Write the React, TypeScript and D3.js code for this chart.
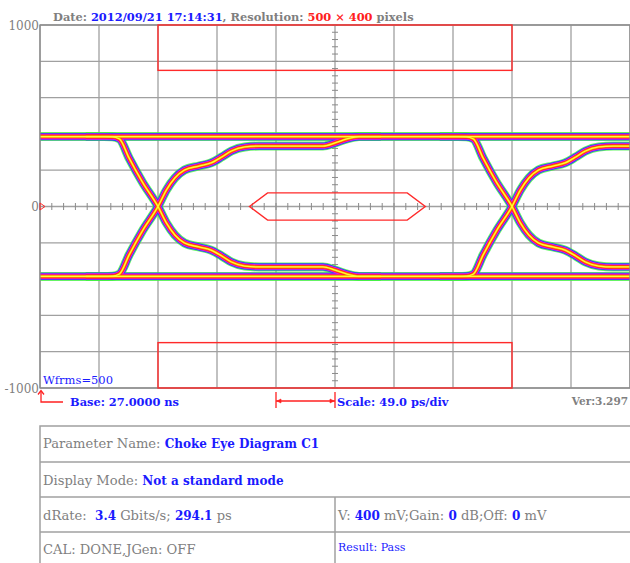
import React, { useEffect, useRef } from 'react';
import * as d3 from 'd3';

// grid: time in ps (49 ps/div), amplitude in mV
const timeTicks = [0, 49, 98, 147, 196, 245, 294, 343, 392, 441, 490];
const voltTicks = [-1000, -800, -600, -400, -200, 0, 200, 400, 600, 800, 1000];
const axisLabels = ['1000', '0', '-1000'];
const axisLabelValues = [1000, 0, -1000];

// eye traces
const railHigh = 385;
const railLow = -385;
const crossings = [98, 392];
// rising edge shape, relative to the crossing (falling = mirrored)
const edgeT = [-60, -45, -38, -32, -24, -13, 0, 7, 14, 22, 34, 44, 53, 61, 72, 84, 137, 147, 157, 167, 185];
const edgeV = [-385, -385, -384, -372, -267, -135, 0, 91, 157, 201, 223, 240, 273, 306, 328, 333, 333, 350, 372, 385, 385];

// mask
const maskT = [98, 392];
const maskV = [750, 1000];
const hexT = [174, 189, 305, 320, 305, 189];
const hexV = [0, 75, 75, 0, -75, -75];

// texts
const GRAY = '#7f7f7f';
const BLUE = '#1a1aff';
const RED = '#ff2020';
const header: [string, string][] = [
  ['Date: ', GRAY], ['2012/09/21 17:14:31', BLUE], [', Resolution: ', GRAY],
  ['500 \u00d7 400', RED], [' pixels', GRAY],
];
const rowParam: [string, string, boolean][] = [['Parameter Name: ', GRAY, false], ['Choke Eye Diagram C1', BLUE, true]];
const rowMode: [string, string, boolean][] = [['Display Mode: ', GRAY, false], ['Not a standard mode', BLUE, true]];
const rowRate: [string, string, boolean][] = [
  ['dRate:  ', GRAY, false], ['3.4', BLUE, true], [' Gbits/s; ', GRAY, false], ['294.1', BLUE, true], [' ps', GRAY, false],
];
const rowV: [string, string, boolean][] = [
  ['V: ', GRAY, false], ['400', BLUE, true], [' mV;Gain: ', GRAY, false], ['0', BLUE, true],
  [' dB;Off: ', GRAY, false], ['0', BLUE, true], [' mV', GRAY, false],
];
const rowCal: [string, string, boolean][] = [['CAL: DONE,JGen: OFF', GRAY, false]];

const traceLayers = [
  { color: '#3ef03e', width: 9, opacity: 0.8 },
  { color: '#2b3cff', width: 7.2, opacity: 1 },
  { color: '#e81ee8', width: 5.6, opacity: 1 },
  { color: '#ff1f1f', width: 4, opacity: 1 },
  { color: '#ff8a00', width: 2.6, opacity: 1 },
  { color: '#ffff30', width: 1.3, opacity: 1 },
];

const FONT = '"DejaVu Serif", serif';
const REG = 13.1;
const BOLD_TABLE = 12;
const BOLD_SMALL = 11.4;

export default function App() {
  const svgRef = useRef<SVGSVGElement>(null);

  useEffect(() => {
    const svg = d3.select(svgRef.current);
    svg.selectAll('*').remove();

    const width = 630;
    const height = 563;
    const left = 40, right = 630, top = 25, bottom = 388;

    svg.attr('width', width).attr('height', height);

    const x = d3.scaleLinear().domain([0, 490]).range([left, right]);
    const y = d3.scaleLinear().domain([-1000, 1000]).range([bottom, top]);

    svg.append('defs').append('clipPath').attr('id', 'plotclip')
      .append('rect').attr('x', left).attr('y', top).attr('width', right - left).attr('height', bottom - top);

    // grid
    const grid = svg.append('g').attr('stroke', '#a0a0a0').attr('stroke-width', 1.3);
    grid.selectAll('line.v').data(timeTicks).enter().append('line')
      .attr('x1', d => x(d)).attr('x2', d => x(d)).attr('y1', top).attr('y2', bottom);
    grid.selectAll('line.h').data(voltTicks).enter().append('line')
      .attr('x1', left).attr('x2', right).attr('y1', d => y(d)).attr('y2', d => y(d));

    // center axes with minor ticks
    const minorT = d3.range(0, 490.1, 9.8);
    const minorV = d3.range(-1000, 1000.1, 40);
    const ax = svg.append('g').attr('stroke', '#8a8a8a').attr('stroke-width', 1);
    ax.selectAll('line.mt').data(minorT).enter().append('line')
      .attr('x1', d => x(d)).attr('x2', d => x(d)).attr('y1', y(0) - 3.5).attr('y2', y(0) + 3.5);
    ax.selectAll('line.mv').data(minorV).enter().append('line')
      .attr('x1', x(245) - 3).attr('x2', x(245) + 3).attr('y1', d => y(d)).attr('y2', d => y(d));

    // traces
    const line = d3.line<[number, number]>()
      .x(d => x(d[0])).y(d => y(d[1]))
      .curve(d3.curveMonotoneX);

    const paths: [number, number][][] = [];
    paths.push([[0, railHigh], [490, railHigh]]);
    paths.push([[0, railLow], [490, railLow]]);
    crossings.forEach(c => {
      paths.push(edgeT.map((t, i) => [c + t, edgeV[i]] as [number, number]));
      paths.push(edgeT.map((t, i) => [c + t, -edgeV[i]] as [number, number]));
    });

    const traces = svg.append('g').attr('clip-path', 'url(#plotclip)').attr('fill', 'none');
    traceLayers.forEach(layer => {
      traces.append('g')
        .attr('stroke', layer.color)
        .attr('stroke-width', layer.width)
        .attr('stroke-opacity', layer.opacity)
        .attr('stroke-linejoin', 'round')
        .selectAll('path').data(paths).enter().append('path')
        .attr('d', d => line(d) as string);
    });

    // plot border (top / left visible)
    svg.append('rect').attr('x', left).attr('y', top).attr('width', right - left).attr('height', bottom - top)
      .attr('fill', 'none').attr('stroke', '#8a8a8a').attr('stroke-width', 1.3);

    // mask
    const mask = svg.append('g').attr('fill', 'none').attr('stroke', '#ff2a2a').attr('stroke-width', 1.4);
    mask.append('rect').attr('x', x(maskT[0])).attr('y', y(maskV[1]))
      .attr('width', x(maskT[1]) - x(maskT[0])).attr('height', y(maskV[0]) - y(maskV[1]));
    mask.append('rect').attr('x', x(maskT[0])).attr('y', y(-maskV[0]))
      .attr('width', x(maskT[1]) - x(maskT[0])).attr('height', y(-maskV[1]) - y(-maskV[0]));
    mask.append('polygon')
      .attr('points', hexT.map((t, i) => `${x(t)},${y(hexV[i])}`).join(' '));

    // trigger marker
    svg.append('path')
      .attr('d', `M${left},${y(0) - 3.5}L${left + 5},${y(0)}L${left},${y(0) + 3.5}Z`)
      .attr('fill', 'none').attr('stroke', '#ff2a2a').attr('stroke-width', 1);

    // axis labels
    svg.append('g').selectAll('text').data(axisLabels).enter().append('text')
      .attr('x', left - 1).attr('y', (_d, i) => y(axisLabelValues[i]) + 4.5)
      .attr('text-anchor', 'end').attr('font-family', FONT).attr('font-size', 12)
      .attr('fill', GRAY).text(d => d);

    // header
    const h = svg.append('text').attr('x', 53).attr('y', 21)
      .attr('font-family', FONT).attr('font-size', BOLD_SMALL).attr('font-weight', 'bold');
    header.forEach(([t, c]) => h.append('tspan').attr('fill', c).text(t));

    svg.append('text').attr('x', 43).attr('y', 384)
      .attr('font-family', FONT).attr('font-size', 11.5).attr('fill', BLUE).text('Wfrms=500');

    // base arrow
    svg.append('path').attr('d', `M41,391V402H63`).attr('fill', 'none')
      .attr('stroke', RED).attr('stroke-width', 1.3);
    svg.append('path').attr('d', `M38,394.5L41,390.5L44,394.5`).attr('fill', 'none')
      .attr('stroke', RED).attr('stroke-width', 1.3);
    svg.append('text').attr('x', 70).attr('y', 406)
      .attr('font-family', FONT).attr('font-size', BOLD_SMALL).attr('font-weight', 'bold').attr('fill', BLUE)
      .text('Base: 27.0000 ns');

    // scale arrow (one division)
    const sx0 = x(196), sx1 = x(245);
    const sc = svg.append('g').attr('stroke', RED).attr('stroke-width', 1.3).attr('fill', RED);
    sc.append('line').attr('x1', sx0).attr('x2', sx0).attr('y1', 392).attr('y2', 408);
    sc.append('line').attr('x1', sx1).attr('x2', sx1).attr('y1', 392).attr('y2', 408);
    sc.append('line').attr('x1', sx0).attr('x2', sx1).attr('y1', 401).attr('y2', 401);
    sc.append('path').attr('d', `M${sx0 + 1},401L${sx0 + 5},399L${sx0 + 5},403Z`).attr('stroke-width', 0.6);
    sc.append('path').attr('d', `M${sx1 - 1},401L${sx1 - 5},399L${sx1 - 5},403Z`).attr('stroke-width', 0.6);
    svg.append('text').attr('x', sx1 + 2).attr('y', 406)
      .attr('font-family', FONT).attr('font-size', BOLD_SMALL).attr('font-weight', 'bold').attr('fill', BLUE)
      .text('Scale: 49.0 ps/div');

    svg.append('text').attr('x', 628).attr('y', 405).attr('text-anchor', 'end')
      .attr('font-family', FONT).attr('font-size', 10.5).attr('font-weight', 'bold').attr('fill', GRAY)
      .text('Ver:3.297');

    // info table
    const rowY = [426, 462, 497, 532, 568];
    const tb = svg.append('g').attr('stroke', '#a0a0a0').attr('stroke-width', 1.5).attr('fill', 'none');
    tb.append('rect').attr('x', 40).attr('y', rowY[0]).attr('width', 600).attr('height', rowY[4] - rowY[0]);
    rowY.slice(1, 4).forEach(r => tb.append('line').attr('x1', 40).attr('x2', 640).attr('y1', r).attr('y2', r));
    tb.append('line').attr('x1', 335).attr('x2', 335).attr('y1', rowY[2]).attr('y2', rowY[4]);

    const cell = (cx: number, cy: number, parts: [string, string, boolean][]) => {
      const t = svg.append('text').attr('x', cx).attr('y', cy)
        .attr('font-family', FONT).attr('xml:space', 'preserve');
      parts.forEach(([s, c, b]) => t.append('tspan').attr('fill', c)
        .attr('font-size', b ? BOLD_TABLE : REG)
        .attr('font-weight', b ? 'bold' : 'normal').text(s));
    };
    cell(43, 448, rowParam);
    cell(43, 485, rowMode);
    cell(43, 520, rowRate);
    cell(338, 520, rowV);
    cell(43, 554, rowCal);
    svg.append('text').attr('x', 338).attr('y', 551)
      .attr('font-family', FONT).attr('font-size', 11).attr('fill', BLUE).text('Result: Pass');
  }, []);

  return (
    <div style={{ position: 'absolute', left: 0, top: 0, background: '#fff' }}>
      <svg ref={svgRef} style={{ display: 'block' }}></svg>
    </div>
  );
}
